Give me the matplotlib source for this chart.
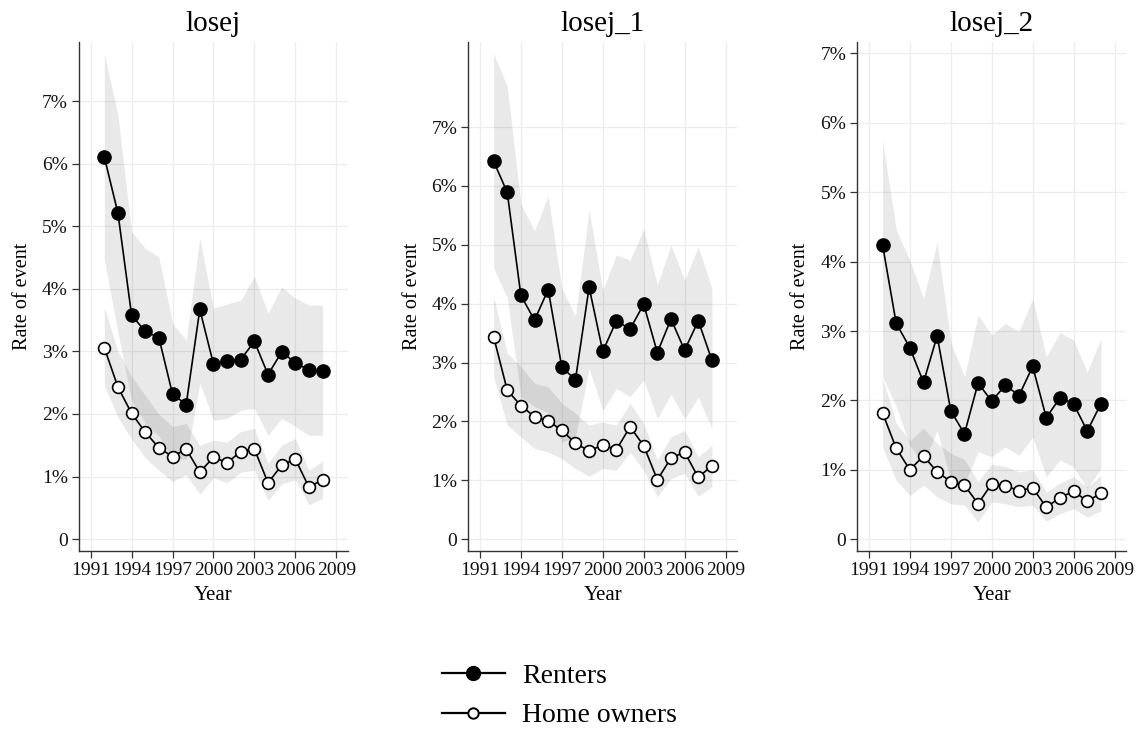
import matplotlib
matplotlib.use("Agg")
import matplotlib.pyplot as plt
import numpy as np

plt.rcParams['font.family'] = ['Liberation Serif', 'DejaVu Serif']

years = list(range(1992, 2009))
panel_titles = ["losej", "losej_1", "losej_2"]

# --- losej ---
renters_0 = [6.11, 5.21, 3.58, 3.32, 3.22, 2.32, 2.15, 3.67, 2.80, 2.84, 2.87, 3.16, 2.63, 2.99, 2.82, 2.70, 2.69]
renters_0_lo = [4.47, 3.30, 2.22, 1.85, 1.65, 1.28, 1.28, 2.49, 1.90, 1.93, 2.06, 2.09, 1.66, 1.93, 1.80, 1.66, 1.66]
renters_0_hi = [7.76, 6.78, 4.91, 4.65, 4.51, 3.45, 3.18, 4.81, 3.69, 3.76, 3.82, 4.20, 3.61, 4.03, 3.85, 3.74, 3.74]
owners_0 = [3.06, 2.43, 2.01, 1.71, 1.46, 1.32, 1.44, 1.07, 1.31, 1.22, 1.40, 1.44, 0.90, 1.18, 1.28, 0.83, 0.95]
owners_0_lo = [2.45, 1.95, 1.60, 1.30, 1.10, 0.92, 1.03, 0.72, 0.98, 0.90, 1.07, 1.10, 0.62, 0.88, 0.95, 0.55, 0.65]
owners_0_hi = [3.71, 3.00, 2.60, 2.30, 2.00, 1.80, 1.85, 1.50, 1.58, 1.55, 1.72, 1.77, 1.21, 1.50, 1.61, 1.10, 1.25]

# --- losej_1 ---
renters_1 = [6.42, 5.89, 4.14, 3.72, 4.24, 2.92, 2.71, 4.28, 3.19, 3.71, 3.57, 3.99, 3.17, 3.74, 3.21, 3.71, 3.04]
renters_1_lo = [4.60, 4.10, 2.42, 2.25, 2.15, 1.65, 1.74, 2.90, 2.19, 2.56, 2.42, 2.71, 2.05, 2.46, 2.05, 2.41, 1.88]
renters_1_hi = [8.25, 7.69, 5.69, 5.24, 5.83, 4.26, 3.79, 5.59, 4.23, 4.83, 4.74, 5.27, 4.32, 5.00, 4.40, 4.97, 4.26]
owners_1 = [3.44, 2.53, 2.27, 2.08, 2.01, 1.85, 1.63, 1.50, 1.60, 1.52, 1.91, 1.59, 1.01, 1.38, 1.48, 1.05, 1.25]
owners_1_lo = [2.76, 1.94, 1.74, 1.54, 1.48, 1.37, 1.20, 1.07, 1.20, 1.17, 1.48, 1.17, 0.72, 1.03, 1.12, 0.73, 0.89]
owners_1_hi = [4.12, 3.16, 2.93, 2.65, 2.59, 2.31, 2.14, 1.94, 1.99, 1.94, 2.31, 1.97, 1.34, 1.74, 1.85, 1.40, 1.60]

# --- losej_2 ---
renters_2 = [4.24, 3.11, 2.76, 2.26, 2.93, 1.85, 1.52, 2.25, 1.99, 2.22, 2.07, 2.49, 1.75, 2.04, 1.95, 1.56, 1.95]
renters_2_lo = [2.35, 1.91, 1.35, 1.09, 1.57, 0.85, 0.80, 1.26, 1.19, 1.33, 1.21, 1.47, 0.90, 1.14, 1.04, 0.73, 1.02]
renters_2_hi = [5.75, 4.46, 4.02, 3.47, 4.28, 2.84, 2.34, 3.23, 2.94, 3.11, 2.99, 3.47, 2.63, 2.98, 2.87, 2.41, 2.89]
owners_2 = [1.82, 1.31, 1.00, 1.20, 0.97, 0.83, 0.78, 0.51, 0.80, 0.77, 0.70, 0.74, 0.46, 0.60, 0.69, 0.55, 0.66]
owners_2_lo = [1.33, 0.85, 0.63, 0.78, 0.61, 0.51, 0.49, 0.25, 0.54, 0.51, 0.47, 0.49, 0.26, 0.37, 0.44, 0.32, 0.41]
owners_2_hi = [2.33, 1.67, 1.42, 1.60, 1.38, 1.24, 1.15, 0.83, 1.08, 1.05, 0.97, 1.00, 0.68, 0.81, 0.90, 0.75, 0.92]

panels = [
    (renters_0, renters_0_lo, renters_0_hi, owners_0, owners_0_lo, owners_0_hi),
    (renters_1, renters_1_lo, renters_1_hi, owners_1, owners_1_lo, owners_1_hi),
    (renters_2, renters_2_lo, renters_2_hi, owners_2, owners_2_lo, owners_2_hi),
]
y_limits = [(-0.19, 7.95), (-0.20, 8.45), (-0.17, 7.17)]
x_ticks = list(range(1991, 2010, 3))
y_ticks = list(range(0, 8))
y_tick_labels = ["0"] + [f"{v}%" for v in y_ticks[1:]]

fig = plt.figure(figsize=(11.39, 7.31), dpi=100)
lefts = [0.0694, 0.4112, 0.7527]
ax_w, ax_b, ax_h = 0.2360, 0.2462, 0.6968

band_color = "#000000"
band_alpha = 0.088
spine_color = "#333333"

for i, (ren, ren_lo, ren_hi, own, own_lo, own_hi) in enumerate(panels):
    ax = fig.add_axes([lefts[i], ax_b, ax_w, ax_h])
    ax.fill_between(years, ren_lo, ren_hi, color=band_color, alpha=band_alpha, linewidth=0, zorder=1)
    ax.fill_between(years, own_lo, own_hi, color=band_color, alpha=band_alpha, linewidth=0, zorder=1)
    ax.plot(years, ren, color="black", lw=1.2, marker="o", markersize=9.5,
            markerfacecolor="black", markeredgecolor="black", zorder=3)
    ax.plot(years, own, color="black", lw=1.2, marker="o", markersize=8.5,
            markerfacecolor="white", markeredgecolor="black", markeredgewidth=1.2, zorder=3)

    ax.set_xlim(1990.15, 2009.85)
    ax.set_ylim(*y_limits[i])
    ax.set_xticks(x_ticks)
    ax.set_yticks(y_ticks)
    ax.set_yticklabels(y_tick_labels)
    ax.grid(True, color="#ededed", linewidth=0.9, zorder=0)
    ax.set_axisbelow(True)
    for side in ("top", "right"):
        ax.spines[side].set_visible(False)
    for side in ("left", "bottom"):
        ax.spines[side].set_color(spine_color)
        ax.spines[side].set_linewidth(1.0)
    ax.tick_params(axis="both", direction="out", length=5, width=0.9, color=spine_color,
                   labelsize=14, labelcolor="#111111", pad=3)
    ax.set_title(panel_titles[i], fontsize=21, pad=8)
    ax.set_xlabel("Year", fontsize=15, labelpad=5)
    ax.set_ylabel("Rate of event", fontsize=14.5, labelpad=7)

handles = [
    plt.Line2D([], [], color="black", lw=1.6, marker="o", markersize=10,
               markerfacecolor="black", markeredgecolor="black"),
    plt.Line2D([], [], color="black", lw=1.6, marker="o", markersize=7.5,
               markerfacecolor="white", markeredgecolor="black", markeredgewidth=1.4),
]
fig.legend(handles, ["Renters", "Home owners"], loc="center",
           bbox_to_anchor=(0.491, 0.048), frameon=False, fontsize=20,
           handlelength=2.3, handletextpad=0.6, labelspacing=0.5)

fig.savefig("out.png", dpi=100, facecolor="white")
